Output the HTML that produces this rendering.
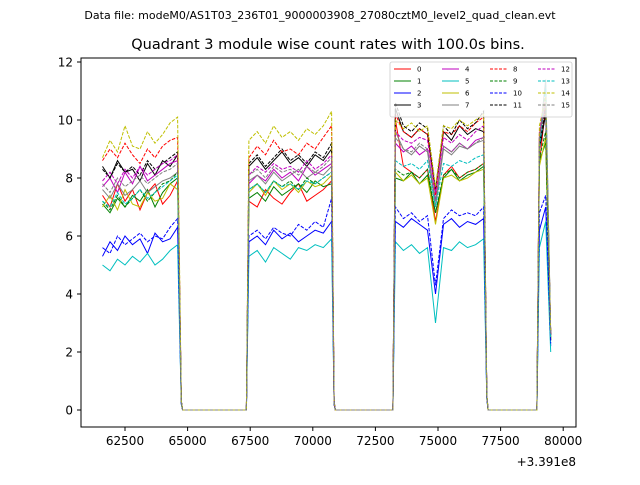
<!DOCTYPE html>
<html><head><meta charset="utf-8"><style>
body{margin:0;background:#fff;font-family:"Liberation Sans","DejaVu Sans",sans-serif}
svg text{font-family:"DejaVu Sans","Liberation Sans",sans-serif}
</style></head><body>
<svg id="chart" width="640" height="480" xmlns="http://www.w3.org/2000/svg">
<rect width="640" height="480" fill="#fff"/>
<text x="320" y="19" font-size="11" text-anchor="middle">Data file: modeM0/AS1T03_236T01_9000003908_27080cztM0_level2_quad_clean.evt</text>
<text x="328" y="49" font-size="14.5" text-anchor="middle">Quadrant 3 module wise count rates with 100.0s bins.</text>
<g id="plot"></g>
<rect x="81" y="58" width="495" height="369" fill="none" stroke="#000" stroke-width="1"/>
<g id="ticks"></g>
<text x="576" y="466" font-size="12" text-anchor="end">+3.391e8</text>
<g id="legend"></g>
</svg>
<script>
const times=[61600,61900,62200,62500,62800,63100,63400,63700,64000,64300,64600,64750,64800,65200,65600,66000,66400,66800,67200,67350,
67450,67780,68110,68440,68770,69100,69430,69760,70090,70420,70750,70850,70900,71300,71700,72100,72500,72900,73200,
73300,73620,73940,74260,74580,74900,75220,75540,75860,76180,76500,76820,76950,77000,77400,77800,78200,78600,78950,
79050,79300,79500];
const xTicks=[62500,65000,67500,70000,72500,75000,77500,80000];
const yTicks=[0,2,4,6,8,10,12];
const names=["0","1","2","3","4","5","6","7","8","9","10","11","12","13","14","15"];
const colors=["#ff0000","#008000","#0000ff","#000000","#bf00bf","#00bfbf","#bfbf00","#808080","#ff0000","#008000","#0000ff","#000000","#bf00bf","#00bfbf","#bfbf00","#808080"];
const s0=[7.4,7.0,7.8,7.2,7.6,6.9,7.5,7.8,7.1,7.4,7.9,0.3,0,0,0,0,0,0,0,0,7.2,7.0,7.6,7.3,7.1,7.5,7.8,7.2,7.4,7.6,7.9,0.2,0,0,0,0,0,0,0,10.0,8.4,8.2,8.0,8.3,6.5,8.1,8.4,8.0,8.2,8.3,8.5,0.5,0,0,0,0,0,0,8.5,10.5,2.5];
const s1=[7.1,6.8,7.3,7.0,7.4,7.2,7.6,7.0,7.5,7.8,8.0,0.3,0,0,0,0,0,0,0,0,7.3,7.5,7.2,7.7,7.4,7.6,7.8,7.5,7.9,7.7,7.8,0.2,0,0,0,0,0,0,0,8.0,7.9,8.2,7.8,8.1,6.8,8.0,8.3,7.9,8.1,8.2,8.4,0.5,0,0,0,0,0,0,8.6,9.2,2.4];
const s2=[5.3,5.8,5.5,6.0,5.7,5.9,5.4,6.1,5.8,5.9,6.3,0.2,0,0,0,0,0,0,0,0,5.8,6.0,5.7,6.2,5.9,6.1,5.8,6.0,6.2,6.1,6.5,0.2,0,0,0,0,0,0,0,6.5,6.3,6.6,6.4,6.2,4.0,6.4,6.6,6.3,6.5,6.4,6.6,0.4,0,0,0,0,0,0,6.2,7.0,2.2];
const s3=[8.4,8.0,8.6,8.2,8.3,7.9,8.5,8.1,8.6,8.4,8.8,0.3,0,0,0,0,0,0,0,0,8.4,8.7,8.3,8.6,8.9,8.5,8.7,8.4,8.8,8.6,9.0,0.3,0,0,0,0,0,0,0,10.4,9.6,9.4,9.7,9.5,7.6,9.6,9.3,9.8,9.5,9.7,9.6,0.5,0,0,0,0,0,0,9.0,10.2,2.6];
const s4=[7.7,8.0,7.5,8.2,7.8,8.4,7.9,8.1,8.3,8.5,8.6,0.3,0,0,0,0,0,0,0,0,7.8,8.1,7.9,8.3,8.0,8.2,7.9,8.4,8.1,8.3,8.5,0.2,0,0,0,0,0,0,0,9.2,8.9,9.1,8.8,9.0,7.2,9.1,8.9,9.2,9.0,9.3,9.4,0.5,0,0,0,0,0,0,9.4,10.6,2.6];
const s5=[5.0,4.8,5.2,5.0,5.3,5.1,5.4,5.0,5.2,5.5,5.7,0.2,0,0,0,0,0,0,0,0,5.3,5.5,5.1,5.6,5.4,5.2,5.6,5.5,5.7,5.6,5.9,0.2,0,0,0,0,0,0,0,5.8,5.5,5.7,5.4,5.6,3.0,5.6,5.5,5.8,5.6,5.7,5.9,0.4,0,0,0,0,0,0,5.6,6.5,2.0];
const s6=[7.0,7.4,6.9,7.6,7.1,7.0,7.5,7.2,7.3,7.8,7.6,0.3,0,0,0,0,0,0,0,0,7.5,7.8,7.4,7.9,7.6,7.8,7.5,7.9,7.7,7.8,8.1,0.2,0,0,0,0,0,0,0,8.2,7.9,8.1,7.8,8.0,6.4,8.0,8.1,7.9,8.0,8.2,8.3,0.5,0,0,0,0,0,0,8.4,9.4,2.4];
const s7=[7.6,7.3,7.8,7.4,7.6,7.9,7.5,7.7,7.9,8.0,8.2,0.3,0,0,0,0,0,0,0,0,7.9,8.1,7.8,8.2,7.9,8.1,8.3,8.0,8.2,8.1,8.4,0.3,0,0,0,0,0,0,0,9.6,9.0,8.8,9.1,8.9,7.0,9.0,8.8,9.1,9.0,9.2,9.3,0.5,0,0,0,0,0,0,9.3,11.4,2.6];
const s8=[8.6,9.0,8.7,9.2,8.8,8.5,9.0,8.7,9.1,9.3,9.4,0.3,0,0,0,0,0,0,0,0,8.7,9.1,8.8,9.3,8.9,9.0,8.8,9.2,9.0,9.4,9.8,0.3,0,0,0,0,0,0,0,10.2,9.6,9.4,9.7,9.5,7.4,9.6,9.5,9.8,9.6,9.9,10.1,0.5,0,0,0,0,0,0,9.5,10.6,2.6];
const s9=[7.2,6.9,7.4,7.0,7.3,7.6,7.2,7.5,7.8,7.9,8.2,0.3,0,0,0,0,0,0,0,0,7.6,7.8,7.5,7.9,7.7,7.9,7.6,8.0,7.8,8.0,8.2,0.3,0,0,0,0,0,0,0,8.3,8.1,8.2,8.0,8.3,6.8,8.1,8.3,8.0,8.2,8.3,8.5,0.5,0,0,0,0,0,0,8.7,9.6,2.4];
const s10=[5.6,5.4,6.0,5.7,5.9,6.1,5.8,6.0,5.9,6.3,6.6,0.2,0,0,0,0,0,0,0,0,6.0,6.2,5.9,6.3,6.1,6.0,6.4,6.2,6.5,6.3,7.3,0.2,0,0,0,0,0,0,0,7.0,6.6,6.8,6.5,6.7,4.3,6.6,6.9,6.7,6.8,6.7,7.0,0.4,0,0,0,0,0,0,6.8,7.4,2.3];
const s11=[8.3,8.0,8.5,8.2,8.4,8.1,8.6,8.3,8.5,8.7,8.9,0.3,0,0,0,0,0,0,0,0,8.5,8.8,8.4,8.7,9.0,8.6,8.8,8.5,8.9,8.7,9.2,0.3,0,0,0,0,0,0,0,10.6,9.8,9.6,9.9,9.7,7.6,9.8,9.5,10.0,9.7,9.9,10.3,0.5,0,0,0,0,0,0,9.2,10.4,2.6];
const s12=[7.9,8.2,7.8,8.3,8.0,8.4,8.1,8.3,8.5,8.6,8.8,0.3,0,0,0,0,0,0,0,0,8.1,8.4,8.2,8.5,8.3,8.4,8.2,8.6,8.3,8.5,8.8,0.3,0,0,0,0,0,0,0,9.6,9.3,9.2,9.4,9.3,7.5,9.4,9.2,9.5,9.3,9.6,9.8,0.5,0,0,0,0,0,0,9.6,10.8,2.6];
const s13=[7.2,7.0,7.5,7.1,7.3,7.6,7.3,7.5,7.7,7.9,8.1,0.3,0,0,0,0,0,0,0,0,7.6,7.8,7.5,7.9,7.7,7.8,7.6,7.9,7.8,8.0,8.2,0.3,0,0,0,0,0,0,0,8.6,8.4,8.5,8.3,8.6,7.0,8.5,8.4,8.6,8.5,8.7,8.8,0.5,0,0,0,0,0,0,9.0,11.2,2.5];
const s14=[8.7,9.3,8.9,9.8,9.1,9.0,9.6,9.2,9.5,9.9,10.1,0.3,0,0,0,0,0,0,0,0,9.3,9.6,9.2,9.8,9.4,9.6,9.3,9.7,9.5,9.8,10.3,0.3,0,0,0,0,0,0,0,10.0,9.7,9.9,9.6,9.8,7.7,9.8,9.7,10.0,9.8,10.0,10.2,0.5,0,0,0,0,0,0,9.8,10.8,2.7];
const s15=[7.8,7.5,8.0,7.7,7.9,8.1,7.8,8.0,8.2,8.3,8.5,0.3,0,0,0,0,0,0,0,0,8.1,8.3,8.0,8.4,8.2,8.3,8.1,8.4,8.2,8.4,8.7,0.3,0,0,0,0,0,0,0,9.4,9.0,8.9,9.2,9.0,7.2,9.1,8.9,9.2,9.0,9.2,9.4,0.5,0,0,0,0,0,0,9.4,10.6,2.6];
const series=[s0,s1,s2,s3,s4,s5,s6,s7,s8,s9,s10,s11,s12,s13,s14,s15];
const NS="http://www.w3.org/2000/svg";
const X=t=>125+(t-62500)*(62.6/2500);
const Y=v=>410-v*29;
const plot=document.getElementById('plot');
series.forEach((s,k)=>{
  const p=document.createElementNS(NS,'polyline');
  p.setAttribute('points',s.map((v,i)=>X(times[i]).toFixed(1)+','+Y(v).toFixed(1)).join(' '));
  p.setAttribute('fill','none');p.setAttribute('stroke',colors[k]);p.setAttribute('stroke-width','1');
  if(k>=8)p.setAttribute('stroke-dasharray','3.5,1.5');
  
  
  plot.appendChild(p);
});
const tk=document.getElementById('ticks');
xTicks.forEach(t=>{
  const l=document.createElementNS(NS,'line');
  l.setAttribute('x1',X(t));l.setAttribute('x2',X(t));l.setAttribute('y1',427);l.setAttribute('y2',431);l.setAttribute('stroke','#000');
  
  
  tk.appendChild(l);
  const tx=document.createElementNS(NS,'text');
  tx.setAttribute('x',X(t));tx.setAttribute('y',445);tx.setAttribute('font-size','12');tx.setAttribute('text-anchor','middle');
  tx.textContent=t;
  
  
  tk.appendChild(tx);
});
yTicks.forEach(v=>{
  const l=document.createElementNS(NS,'line');
  l.setAttribute('x1',77);l.setAttribute('x2',81);l.setAttribute('y1',Y(v));l.setAttribute('y2',Y(v));l.setAttribute('stroke','#000');
  
  
  tk.appendChild(l);
  const tx=document.createElementNS(NS,'text');
  tx.setAttribute('x',73);tx.setAttribute('y',Y(v)+4.5);tx.setAttribute('font-size','12');tx.setAttribute('text-anchor','end');
  tx.textContent=v;
  
  
  tk.appendChild(tx);
});
const lg=document.getElementById('legend');
const box=document.createElementNS(NS,'rect');
box.setAttribute('x',390);box.setAttribute('y',62);box.setAttribute('width',182);box.setAttribute('height',55);box.setAttribute('rx',2);
box.setAttribute('fill','#fff');box.setAttribute('fill-opacity','0.8');box.setAttribute('stroke','#ccc');box.setAttribute('stroke-width','0.8');


lg.appendChild(box);
names.forEach((n,k)=>{
  const col=Math.floor(k/4),row=k%4;
  const x0=394+col*48,y0=69+row*12;
  const l=document.createElementNS(NS,'line');
  l.setAttribute('x1',x0);l.setAttribute('x2',x0+17);l.setAttribute('y1',y0);l.setAttribute('y2',y0);
  l.setAttribute('stroke',colors[k]);l.setAttribute('stroke-width','1');
  if(k>=8)l.setAttribute('stroke-dasharray','3,1.5');
  
  
  lg.appendChild(l);
  const tx=document.createElementNS(NS,'text');
  tx.setAttribute('x',x0+23);tx.setAttribute('y',y0+2.5);tx.setAttribute('font-size','7');
  tx.textContent=n;
  
  
  lg.appendChild(tx);
});
</script>
</body></html>
